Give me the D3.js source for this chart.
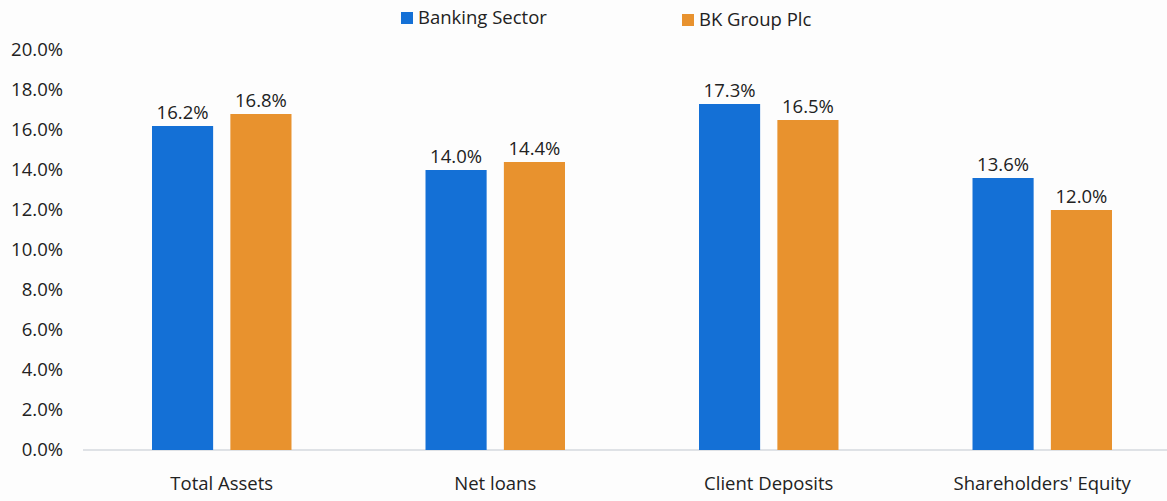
<!DOCTYPE html>
<html>
<head>
<meta charset="utf-8">
<script src="https://cdn.jsdelivr.net/npm/d3@7"></script>
<style>
    body { margin: 0; background: #fdfdfd; }
    text { font-family: 'Open Sans', sans-serif; fill: #222; }
</style>
</head>
<body>
<div id="chart"></div>
<script>
var categories = ['Total Assets', 'Net loans', 'Client Deposits', "Shareholders' Equity"];
var seriesNames = ['Banking Sector', 'BK Group Plc'];
var bankingSector = [16.2, 14.0, 17.3, 13.6];
var bkGroup = [16.8, 14.4, 16.5, 12.0];
var yTicks = [0, 2, 4, 6, 8, 10, 12, 14, 16, 18, 20];

var config = {
    w: 1167,
    h: 501,
    fontSize: '18.5px',
    colors: ['#1470d6', '#e8922e']
};

var data = categories.map(function (c, i) {
    return { cat: c, values: [bankingSector[i], bkGroup[i]] };
});

var svg = d3.select('#chart').append('svg')
    .attr('width', config.w)
    .attr('height', config.h);

// y scale: 0% at baseline, 20% at top
var y = d3.scaleLinear()
    .domain([0, 20])
    .range([450, 50]);

var x0 = d3.scaleBand()
    .domain(categories)
    .range([85, 1179])
    .paddingInner(0.49)
    .paddingOuter(0.245);

var x1 = d3.scaleBand()
    .domain(seriesNames)
    .range([0, x0.bandwidth()])
    .paddingInner(0.22);

// y axis labels
var yAxis = d3.axisLeft(y)
    .tickValues(yTicks)
    .tickSize(0)
    .tickPadding(0)
    .tickFormat(function (d) { return d3.format('.1f')(d) + '%'; });

svg.append('g')
    .attr('transform', 'translate(63,0)')
    .call(yAxis)
    .call(function (g) { g.select('.domain').remove(); })
    .selectAll('text')
    .style('font-size', config.fontSize)
    .style('font-family', "'Open Sans', sans-serif")
    .attr('fill', '#222');

// baseline
svg.append('line')
    .attr('x1', 83)
    .attr('x2', config.w)
    .attr('y1', y(0))
    .attr('y2', y(0))
    .style('stroke', '#d4d8de')
    .style('stroke-width', 1.5);

var groups = svg.selectAll('.cat')
    .data(data)
    .join('g')
    .attr('class', 'cat')
    .attr('transform', function (d) { return 'translate(' + x0(d.cat) + ',0)'; });

groups.selectAll('rect')
    .data(function (d) { return d.values; })
    .join('rect')
    .attr('x', function (d, i) { return x1(seriesNames[i]); })
    .attr('y', function (d) { return y(d); })
    .attr('width', x1.bandwidth())
    .attr('height', function (d) { return y(0) - y(d); })
    .style('fill', function (d, i) { return config.colors[i]; });

groups.selectAll('.val')
    .data(function (d) { return d.values; })
    .join('text')
    .attr('class', 'val')
    .attr('x', function (d, i) { return x1(seriesNames[i]) + x1.bandwidth() / 2; })
    .attr('y', function (d) { return y(d) - 7; })
    .style('text-anchor', 'middle')
    .style('font-size', config.fontSize)
    .text(function (d) { return d.toFixed(1) + '%'; });

// category labels
svg.selectAll('.catLabel')
    .data(categories)
    .join('text')
    .attr('class', 'catLabel')
    .attr('x', function (d) { return x0(d) + x0.bandwidth() / 2; })
    .attr('y', 490)
    .style('text-anchor', 'middle')
    .style('font-size', config.fontSize)
    .text(function (d) { return d; });

// legend
var legendX = [401, 682];
var legend = svg.selectAll('.legend')
    .data(seriesNames)
    .join('g')
    .attr('class', 'legend')
    .attr('transform', function (d, i) { return 'translate(' + legendX[i] + ',' + (12 + i * 2) + ')'; });

legend.append('rect')
    .attr('width', 12)
    .attr('height', 12)
    .style('fill', function (d, i) { return config.colors[i]; });

legend.append('text')
    .attr('x', 17)
    .attr('y', 6)
    .attr('dy', '.35em')
    .style('font-size', config.fontSize)
    .text(function (d) { return d; });
</script>
</body>
</html>
